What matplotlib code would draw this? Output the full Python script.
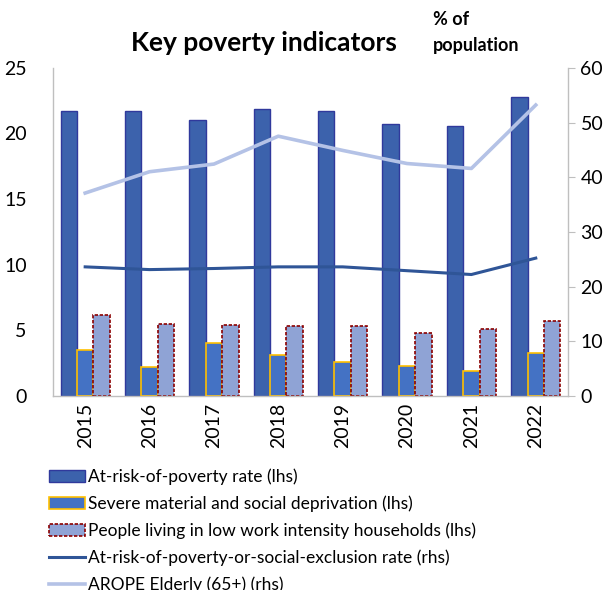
import numpy as np
import matplotlib
matplotlib.use("Agg")
import matplotlib.pyplot as plt
from matplotlib.patches import Patch
from matplotlib.lines import Line2D

years = ["2015", "2016", "2017", "2018", "2019", "2020", "2021", "2022"]
at_risk_poverty = [21.7, 21.7, 21.0, 21.9, 21.7, 20.7, 20.6, 22.8]
severe_deprivation = [3.5, 2.2, 4.0, 3.1, 2.6, 2.3, 1.9, 3.3]
low_work_intensity = [6.2, 5.5, 5.4, 5.3, 5.3, 4.8, 5.1, 5.7]
arope = [23.6, 23.1, 23.3, 23.6, 23.6, 22.9, 22.2, 25.2]
arope_elderly = [37.1, 41.0, 42.4, 47.5, 44.9, 42.5, 41.6, 53.2]

labels = [
    "At-risk-of-poverty rate (lhs)",
    "Severe material and social deprivation (lhs)",
    "People living in low work intensity households (lhs)",
    "At-risk-of-poverty-or-social-exclusion rate (rhs)",
    "AROPE Elderly (65+) (rhs)",
]

plt.rcParams['font.family'] = ['Lato', 'DejaVu Sans']

c_bar1, e_bar1 = "#3C62AC", "#30399C"
c_bar2, e_bar2 = "#4472C4", "#FFC000"
c_bar3, e_bar3 = "#8FA3D5", "#8B0000"
c_line1 = "#2F5597"
c_line2 = "#B4C2E6"

fig = plt.figure(figsize=(6.14, 5.90), dpi=100)
ax = fig.add_axes([0.0863, 0.329, 0.8387, 0.556])
ax2 = ax.twinx()

x = np.arange(len(years))
w = 0.255
ax.bar(x - w, at_risk_poverty, w, color=c_bar1, edgecolor=e_bar1, linewidth=1.0, zorder=2)
ax.bar(x, severe_deprivation, w, color=c_bar2, edgecolor=e_bar2, linewidth=1.2, zorder=2)
ax.bar(x + w, low_work_intensity, w, color=c_bar3, edgecolor=e_bar3, linewidth=1.2,
       linestyle=(0, (2, 1)), zorder=2)

ax2.plot(x, arope, color=c_line1, lw=2.2)
ax2.plot(x, arope_elderly, color=c_line2, lw=2.6)

ax.set_xlim(-0.5, len(years) - 0.5)
ax.set_ylim(0, 25)
ax2.set_ylim(0, 60)
ax.set_yticks(np.arange(0, 26, 5))
ax2.set_yticks(np.arange(0, 61, 10))
ax.set_xticks(x)
ax.set_xticklabels(years, rotation=90, fontsize=14)

for a in (ax, ax2):
    for s in a.spines.values():
        s.set_visible(False)
ax.spines["left"].set_visible(True)
ax.spines["bottom"].set_visible(True)
ax2.spines["right"].set_visible(True)
for s in (ax.spines["left"], ax.spines["bottom"], ax2.spines["right"]):
    s.set_color("#BFBFBF")
    s.set_linewidth(1.0)

ax.tick_params(axis="y", length=0, labelsize=14, pad=19)
ax.tick_params(axis="x", length=0, labelsize=14, pad=5)
ax2.tick_params(axis="y", length=5, color="#BFBFBF", labelsize=14, pad=4)

fig.text(0.43, 0.927, "Key poverty indicators", ha="center", va="center",
         fontsize=19, fontweight="bold")
fig.text(0.705, 0.945, "% of\npopulation", ha="left", va="center",
         fontsize=13, fontweight="bold", linespacing=1.6)

handles = [
    Patch(facecolor=c_bar1, edgecolor=e_bar1, linewidth=1.0),
    Patch(facecolor=c_bar2, edgecolor=e_bar2, linewidth=1.2),
    Patch(facecolor=c_bar3, edgecolor=e_bar3, linewidth=1.2, linestyle=(0, (2, 1))),
    Line2D([], [], color=c_line1, lw=2.2),
    Line2D([], [], color=c_line2, lw=2.6),
]
fig.legend(handles, labels, loc="upper left", bbox_to_anchor=(0.08, 0.206),
           frameon=False, fontsize=12.5, handlelength=2.07, handleheight=0.65,
           handletextpad=0.17, labelspacing=0.6, borderaxespad=0, borderpad=0)

fig.savefig("out.png", dpi=100)
